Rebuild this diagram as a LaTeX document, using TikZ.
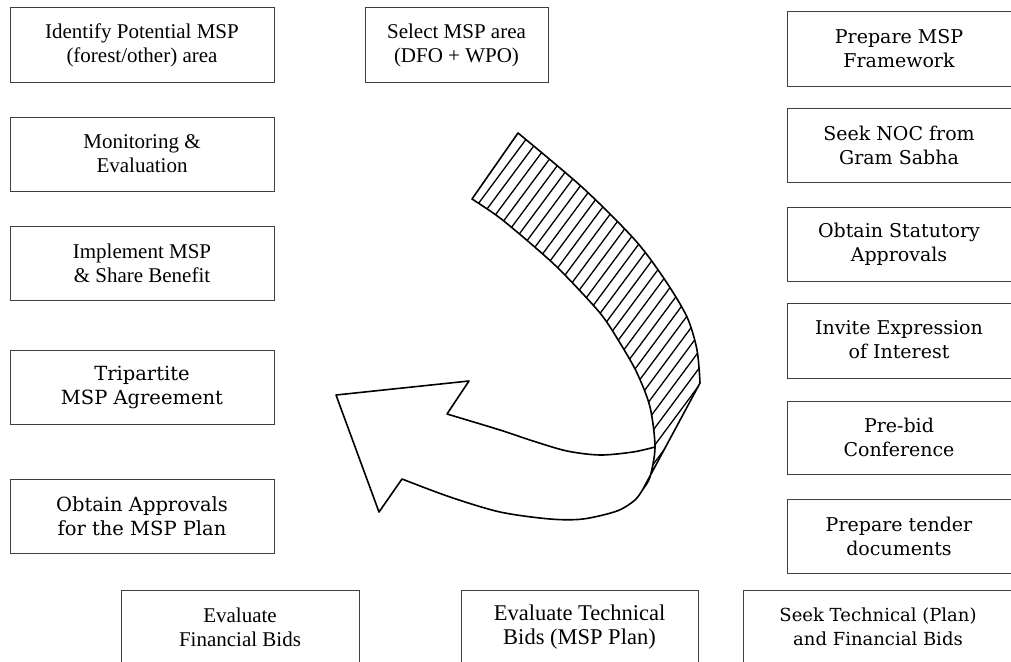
\documentclass[tikz,border=0pt]{standalone}
\usepackage{fontspec}
\newfontfamily\tmsfam{Liberation Serif}
\newfontfamily\chrfam{DejaVu Serif}
\tikzset{
  boxline/.style={draw=black!75, line width=1pt},
  ttxt/.style={font=\tmsfam\fontsize{21}{24}\selectfont, align=center, inner sep=0pt},
  ctxt/.style={font=\chrfam\fontsize{19}{24}\selectfont, align=center, inner sep=0pt},
  lbox/.style={boxline, minimum width=264pt, minimum height=74pt},
  arrowline/.style={line width=1.6pt, line join=round, draw=black},
  hatchline/.style={line width=1.3pt, draw=black},
}
\newcommand\bandpath{(518,133) -- plot[smooth] coordinates {(472,199) (500,218) (537,249) (562,272) (600,313) (620,343) (637,373) (650,407) (655,447) (650,477) (643,489)} -- plot[smooth] coordinates {(700,383) (697,350) (687,317) (665,280) (635,240) (583,188) (518,133)} -- cycle}
\begin{document}
\begin{tikzpicture}[x=1pt,y=-1pt]
\useasboundingbox (0,0) rectangle (1011,661);
\clip (0,0) rectangle (1011,661);

% left column
\node[ttxt, lbox] (identify) at (142,45) {Identify Potential MSP\\(forest/other) area};
\node[ttxt, lbox] (monitor) at (142,154) {Monitoring \&\\Evaluation};
\node[ttxt, lbox] (implement) at (142,263) {Implement MSP\\\& Share Benefit};
\node[ctxt, lbox, font=\chrfam\fontsize{19.5}{24}\selectfont] (tripartite) at (142,387) {Tripartite\\MSP Agreement};
\node[ctxt, lbox, font=\chrfam\fontsize{19.5}{24}\selectfont] (approvals) at (142,516) {Obtain Approvals\\for the MSP Plan};

% top middle
\node[ttxt, boxline, minimum width=183pt, minimum height=74pt] (select) at (456.5,45) {Select MSP area\\(DFO + WPO)};

% bottom row
\node[ttxt, boxline, minimum width=238pt, minimum height=74pt] (evalfin) at (240,627) {Evaluate\\Financial Bids};
\node[ttxt, boxline, minimum width=237pt, minimum height=74pt, font=\tmsfam\fontsize{22.5}{24}\selectfont] (evaltech) at (579.5,627) {Evaluate Technical\\Bids (MSP Plan)};
\draw[boxline] (743,590) rectangle (1030,680);
\node[ctxt, font=\chrfam\fontsize{18}{24}\selectfont] (seektech) at (878,627) {Seek Technical (Plan)\\and Financial Bids};

% right column
\draw[boxline] (787,12) rectangle (1030,86);
\node[ctxt] (framework) at (899,49) {Prepare MSP\\Framework};
\draw[boxline] (787,108) rectangle (1030,182);
\node[ctxt] (noc) at (899,145) {Seek NOC from\\Gram Sabha};
\draw[boxline] (787,207) rectangle (1030,281);
\node[ctxt] (statutory) at (899,244) {Obtain Statutory\\Approvals};
\draw[boxline] (787,303) rectangle (1030,378);
\node[ctxt] (invite) at (899,340) {Invite Expression\\of Interest};
\draw[boxline] (787,401) rectangle (1030,474);
\node[ctxt] (prebid) at (899,437) {Pre-bid\\Conference};
\draw[boxline] (787,499) rectangle (1030,573);
\node[ctxt] (tender) at (899,536) {Prepare tender\\documents};

% curved arrow: hatched band
\begin{scope}
  \clip \bandpath;
  \foreach \k in {0,...,32} {
    \draw[hatchline] (542.5+\k*12.7,100) -- ++(-345,465);
  }
\end{scope}
\draw[arrowline] \bandpath;

% white ribbon with arrow head
\draw[arrowline] plot[smooth] coordinates {(655,447) (633,452) (600,455) (567,451) (533,441) (500,430) (447,414)}
  -- (469,381) -- (336,395) -- (379,512) -- (402,479)
  -- plot[smooth] coordinates {(402,479) (450,497) (500,512) (550,519) (583,519) (617,511) (635,500) (643,489)};
\end{tikzpicture}
\end{document}
